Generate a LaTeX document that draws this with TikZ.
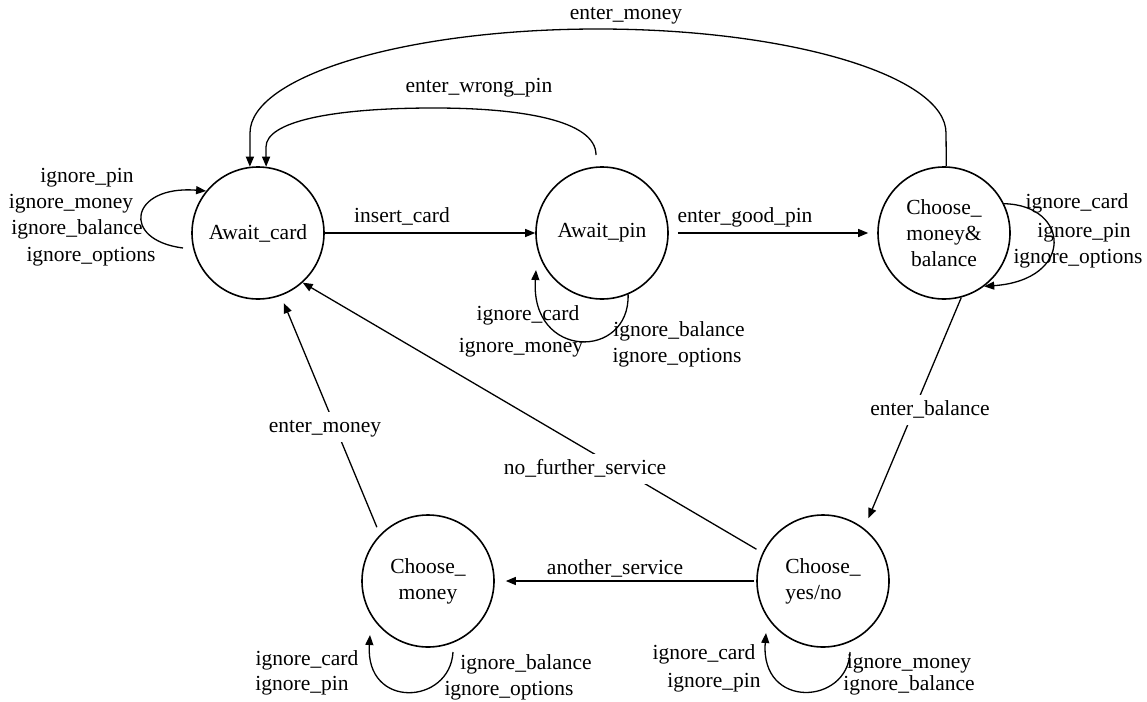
\documentclass[tikz,border=0pt]{standalone}
\usepackage{fontspec}
\setmainfont{Liberation Serif}
\usetikzlibrary{arrows.meta}
\tikzset{
  state/.style={circle,draw,line width=1.6pt,minimum size=132pt,inner sep=0pt,align=center},
  lbl/.style={inner sep=0pt,text height=15pt,text depth=5pt},
  cut/.style={lbl,fill=white,inner sep=5pt},
  trans/.style={line width=1.3pt,-{Triangle[length=10pt,width=8pt]}}
}
\begin{document}
\begin{tikzpicture}[x=1pt,y=-1pt,font=\fontsize{21.5}{26}\selectfont]
    \useasboundingbox (0,0) rectangle (1147,701);
    % states
    \node[state] (awaitcard) at (258,233) {Await\_card};
    \node[state] (awaitpin) at (602,233) {Await\_pin};
    \node[state] (cmb) at (944,233) {Choose\_\\money\&\\balance};
    \node[state,align=left] (yn) at (823,581) {Choose\_\\yes/no};
    \node[state] (cm) at (428,581) {Choose\_\\money};
    % free ends of the loops
    \coordinate (acloop) at (183,248);
    \coordinate (aploop) at (536,270);
    \coordinate (aptop) at (596,155);
    \coordinate (ynout) at (850,652);
    \coordinate (ynin) at (766,633);
    \coordinate (cmout) at (453,652);
    \coordinate (cmin) at (370,635);
    % transitions
    \draw[trans] (awaitcard) -- (awaitpin);
    \draw[trans,shorten <=9pt,shorten >=9pt] (awaitpin) -- (cmb);
    \draw[trans,shorten >=11pt] (cmb.-75) -- (yn.52);
    \draw[trans,shorten <=2pt,shorten >=11pt] (yn) -- (cm);
    \draw[trans,shorten <=8pt,shorten >=8pt] (cm.136) -- (awaitcard.-70);
    \draw[trans,shorten <=7pt] (yn.155) -- (awaitcard.-48);
    \draw[trans] (aptop) .. controls (596,120) and (520,108) .. (434,108)
        .. controls (330,108) and (266,122) .. (266,147) -- (awaitcard.83);
    \draw[trans] (cmb.88) -- (946,133) .. controls (946,76) and (790,29) .. (598,29)
        .. controls (406,29) and (250,76) .. (250,133) -- (awaitcard.97);
    % self loops
    \draw[trans] (acloop) .. controls (120,240) and (130,185) .. (awaitcard.141);
    \draw[trans] (awaitpin.-67) .. controls (630,360) and (530,360) .. (aploop);
    \draw[trans] (cmb.26) .. controls (1070,205) and (1075,280) .. (cmb.-53);
    \draw[trans] (ynout) .. controls (848,705) and (760,710) .. (ynin);
    \draw[trans] (cmout) .. controls (450,705) and (365,710) .. (cmin);
    % transition labels
    \node[lbl] (linsert) at (402,217) {insert\_card};
    \node[lbl] (lgood) at (745,217) {enter\_good\_pin};
    \node[lbl] (lwrong) at (479,87) {enter\_wrong\_pin};
    \node[lbl] (lmoneytop) at (626,15) {enter\_money};
    \node[cut] (lbalance) at (930,410) {enter\_balance};
    \node[cut] (lmoney) at (325,427) {enter\_money};
    \node[cut] (lnofurther) at (585,469) {no\_further\_service};
    \node[lbl] (lanother) at (615,569) {another\_service};
    % loop labels
    \node[lbl] (ac1) at (87,177) {ignore\_pin};
    \node[lbl] (ac2) at (71,203) {ignore\_money};
    \node[lbl] (ac3) at (77,229) {ignore\_balance};
    \node[lbl] (ac4) at (91,256) {ignore\_options};
    \node[lbl] (ap1) at (528,315) {ignore\_card};
    \node[lbl] (ap2) at (521,347) {ignore\_money};
    \node[lbl] (ap3) at (679,331) {ignore\_balance};
    \node[lbl] (ap4) at (677,357) {ignore\_options};
    \node[lbl] (cmb1) at (1077,203) {ignore\_card};
    \node[lbl] (cmb2) at (1084,232) {ignore\_pin};
    \node[lbl] (cmb3) at (1078,258) {ignore\_options};
    \node[lbl] (yn1) at (704,654) {ignore\_card};
    \node[lbl] (yn2) at (714,682) {ignore\_pin};
    \node[lbl] (yn3) at (909,663) {ignore\_money};
    \node[lbl] (yn4) at (909,685) {ignore\_balance};
    \node[lbl] (cm1) at (307,660) {ignore\_card};
    \node[lbl] (cm2) at (302,685) {ignore\_pin};
    \node[lbl] (cm3) at (526,664) {ignore\_balance};
    \node[lbl] (cm4) at (509,690) {ignore\_options};
\end{tikzpicture}
\end{document}
